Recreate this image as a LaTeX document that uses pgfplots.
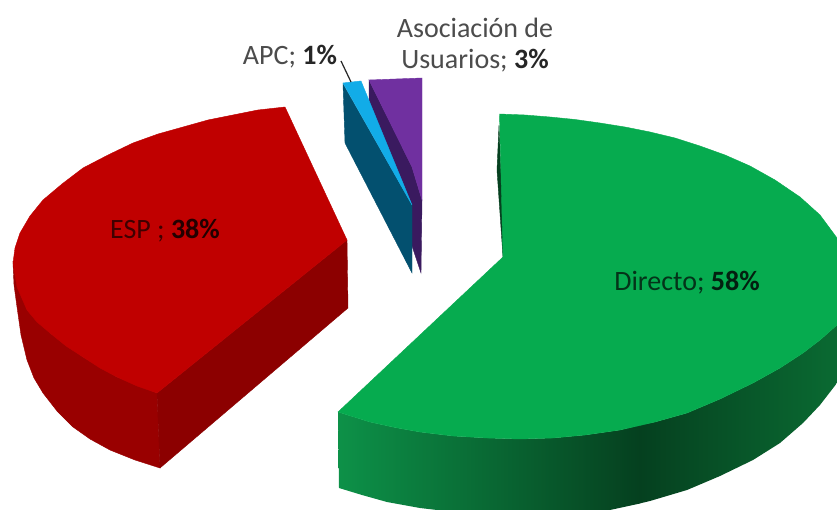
\documentclass[border=0pt]{standalone}
\usepackage{pgfplots}
\pgfplotsset{compat=1.18}
\usepackage{fontspec}
\setmainfont{Carlito}
\definecolor{rojo}{HTML}{C00000}
\definecolor{rojoA}{HTML}{990000}
\definecolor{rojoB}{HTML}{8C0000}
\definecolor{verde}{HTML}{06AB4F}
\definecolor{verdeA}{HTML}{0D9148}
\definecolor{verdeB}{HTML}{05401F}
\definecolor{verdeC}{HTML}{0A6A32}
\definecolor{azul}{HTML}{12ACE8}
\definecolor{azulO}{HTML}{03506F}
\definecolor{morado}{HTML}{7030A0}
\definecolor{moradoO}{HTML}{3A1A5F}
\begin{document}
\begin{tikzpicture}
\begin{axis}[
    scale only axis, width=837pt, height=510pt,
    xmin=0, xmax=837, ymin=0, ymax=510,
    y dir=reverse, hide axis,
    every axis plot/.append style={line width=0.4pt},
]
% fondo
\addplot[draw=none, fill=white] coordinates {(0,0) (837,0) (837,510) (0,510)} \closedcycle;

% ESP, lados
\addplot[draw=rojoA, fill=rojoA] coordinates {
  (13,263) (14,285) (17,307) (21,335) (27,360) (34,378) (43,393) (57,411) (73,427)
  (90,439) (110,450) (135,460) (160,468) (157,393) (117,377) (83,357) (50,333) (27,310)
} -- cycle;
\addplot[draw=rojoB, fill=rojoB] coordinates {
  (157,393) (160,468) (348,308) (347,240)
} -- cycle;
% ESP, cara
\addplot[draw=rojo, fill=rojo] coordinates {
  (285,107) (258,110) (233,115) (208,120) (183,127) (158,134) (133,143) (108,155) (83,168)
  (62,184) (43,200) (30,216) (20,233) (15,248) (13,263) (17,287) (27,310) (37,322) (50,333)
  (66,346) (83,357) (100,368) (117,377) (137,386) (157,393) (347,240)
} -- cycle;

% Asociacion de Usuarios
\addplot[draw=moradoO, fill=moradoO] coordinates {
  (369,80) (412,167) (422,200) (421,273) (412,246) (412,205) (369,105)
} -- cycle;
\addplot[draw=morado, fill=morado] coordinates {
  (369,80) (422,78) (422,200) (412,167)
} -- cycle;

% APC
\addplot[draw=azulO, fill=azulO] coordinates {
  (343,84) (412,205) (412,273) (345,143)
} -- cycle;
\addplot[draw=azul, fill=azul] coordinates {
  (343,83) (361,81) (412,205)
} -- cycle;
\addplot[color=black!85, line width=1.2pt] coordinates {(341,61) (351,82)};

% Directo, lado con degradado
\addplot[draw=none, left color=verdeA, right color=verdeB] coordinates {
  (338,412) (339,488) (362,495) (387,502) (420,508) (437,510) (610,510) (640,503.5)
  (640,425) (620,430) (585,435) (553,438) (520,439) (487,438) (453,436) (420,432) (395,427.5) (370,422)
} -- cycle;
\addplot[draw=none, left color=verdeB, right color=verdeC] coordinates {
  (639.5,425) (639.5,503.5) (650,501) (687,490) (720,476) (753,460) (780,443) (803,423) (820,405) (837,383)
  (837,325) (820,340) (803,353) (780,368) (753,383) (720,399) (687,413) (655,422)
} -- cycle;
% Directo, borde interior
\addplot[draw=verdeB, fill=verdeB] coordinates {
  (499,125) (497,170) (503,257) (509,255) (501,175)
} -- cycle;
% Directo, cara
\addplot[draw=verde, fill=verde] coordinates {
  (499.5,114) (525,115) (550,117) (575,119.5) (600,123) (625,127) (650,132) (675,138)
  (700,146) (725,155) (750,166) (775,180) (800,197) (820,215) (837,238)
  (837,325) (820,340) (803,353) (780,368) (753,383) (720,399) (687,413) (655,422) (620,430)
  (585,435) (553,438) (520,439) (487,438) (453,436) (420,432) (395,427.5) (370,422) (338,412)
  (503,257) (501,175)
} -- cycle;

% etiquetas
\node[text=rojoB!45!black, font=\fontsize{28}{28}\selectfont] at (axis cs:165,231)
  {ESP ; \textcolor{rojoB!25!black}{\textbf{38\%}}};
\node[text=verdeB!80!black, font=\fontsize{28}{28}\selectfont] at (axis cs:687,283)
  {Directo; \textcolor{verdeB!50!black}{\textbf{58\%}}};
\node[text=black!70, font=\fontsize{28}{28}\selectfont] at (axis cs:290,57)
  {APC; \textcolor{black!85}{\textbf{1\%}}};
\node[text=black!70, font=\fontsize{28}{28}\selectfont] at (axis cs:475,28) {Asociación de};
\node[text=black!70, font=\fontsize{28}{28}\selectfont] at (axis cs:475,61)
  {Usuarios; \textcolor{black!85}{\textbf{3\%}}};
\end{axis}
\end{tikzpicture}
\end{document}
